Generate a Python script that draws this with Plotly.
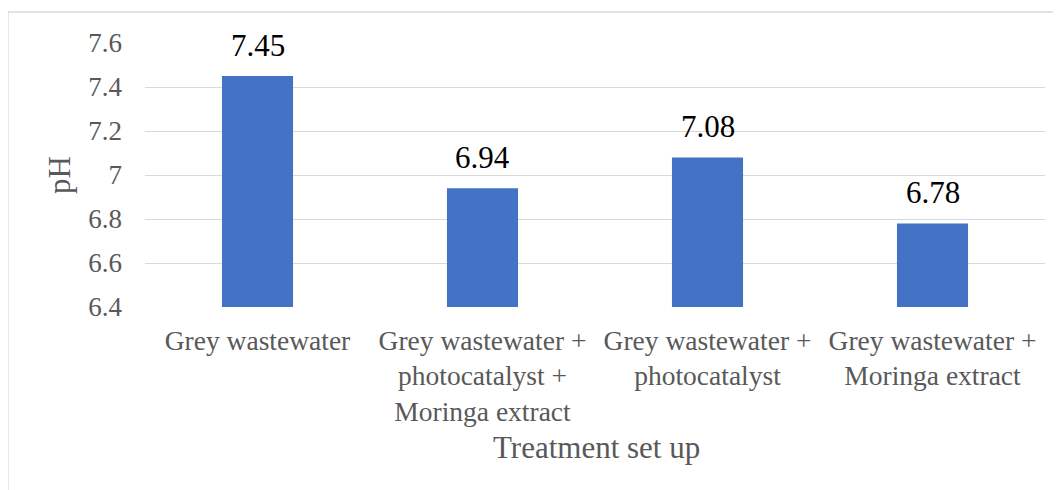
import plotly.graph_objects as go

categories = [
    "Grey wastewater",
    "Grey wastewater +<br>photocatalyst +<br>Moringa extract",
    "Grey wastewater +<br>photocatalyst",
    "Grey wastewater +<br>Moringa extract",
]
ph_values = [7.45, 6.94, 7.08, 6.78]
y_ticks = [6.4, 6.6, 6.8, 7.0, 7.2, 7.4, 7.6]
y_tick_labels = ["6.4", "6.6", "6.8", "7", "7.2", "7.4", "7.6"]

FONT = "Liberation Serif"
OFF = 8  # page body margin
W, H = 1061 - OFF, 490 - OFF
# plot area in page pixels: x 145..1045, y 43..307
L = 145 - OFF
T = 43 - OFF
R = W - (1045 - OFF)
B = H - (307 - OFF)
pw, ph = W - L - R, H - T - B

def px_x(p):
    return (p - OFF - L) / pw

def px_y(p):
    return (H - B - (p - OFF)) / ph

fig = go.Figure()
fig.add_trace(go.Bar(
    x=categories, y=ph_values,
    marker=dict(color="#4472C4", line=dict(width=0)),
    width=0.316,
))

for c, v in zip(categories, ph_values):
    fig.add_annotation(x=c, y=v, text=f"{v:.2f}", showarrow=False,
                       yanchor="bottom", yshift=11,
                       font=dict(family=FONT, size=31, color="#000000"))

fig.add_annotation(xref="paper", yref="paper", x=px_x(596), y=px_y(447),
                   text="Treatment set up", showarrow=False,
                   xanchor="center", yanchor="middle",
                   font=dict(family=FONT, size=31, color="#595959"))
fig.add_annotation(xref="paper", yref="paper", x=px_x(59), y=0.5,
                   text="pH", showarrow=False, textangle=-90,
                   xanchor="center", yanchor="middle",
                   font=dict(family=FONT, size=31, color="#595959"))

fig.add_shape(type="rect", xref="paper", yref="paper",
              x0=px_x(8), y0=px_y(520), x1=px_x(1100), y1=px_y(12),
              line=dict(color="#D9D9D9", width=1.3), fillcolor="rgba(0,0,0,0)",
              layer="below")

fig.update_layout(
    width=W, height=H,
    margin=dict(l=L, r=R, t=T, b=B, pad=0),
    paper_bgcolor="white", plot_bgcolor="white",
    showlegend=False,
    font=dict(family=FONT, color="#595959"),
)
fig.update_xaxes(
    showgrid=False, zeroline=False, showline=False,
    tickfont=dict(family=FONT, size=27.5, color="#595959"),
    ticks="", ticklabelstandoff=14,
)
fig.update_yaxes(
    range=[6.4, 7.6], tickvals=y_ticks, ticktext=y_tick_labels,
    showgrid=True, gridcolor="#D9D9D9", gridwidth=1.3,
    zeroline=False, showline=False, ticks="",
    tickfont=dict(family=FONT, size=27, color="#595959"),
    ticklabelstandoff=22,
)

fig.write_html("out.html")
